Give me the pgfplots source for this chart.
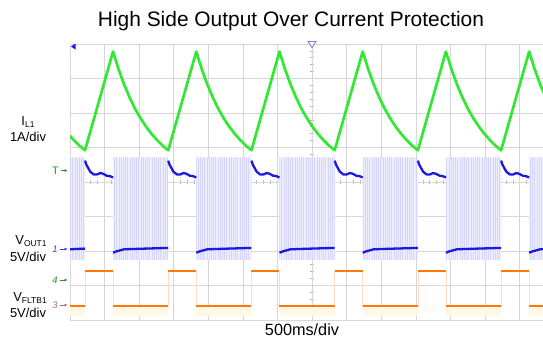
\documentclass[border=0pt]{standalone}
\usepackage{pgfplots}
\pgfplotsset{compat=1.18}
\usetikzlibrary{arrows.meta,patterns.meta}
\usepackage{fontspec}
\setmainfont{Liberation Sans}
\definecolor{scgreen}{RGB}{50,232,50}
\definecolor{scblue}{RGB}{25,25,225}
\definecolor{scorange}{RGB}{255,120,10}
\definecolor{shblue}{RGB}{238,238,255}
\definecolor{shbluel}{RGB}{214,214,252}
\definecolor{shorange}{RGB}{255,248,228}
\definecolor{gridgray}{RGB}{215,215,215}
\definecolor{tickgray}{RGB}{185,185,185}
\definecolor{mkgreen}{RGB}{40,150,40}
\definecolor{mkblue}{RGB}{60,60,220}
\definecolor{mkbrown}{RGB}{170,110,90}
\definecolor{trigblue}{RGB}{120,120,220}
\pgfplotsset{shade/.style={draw=none, fill=shblue, postaction={pattern={Lines[angle=90, distance=2.2bp, line width=0.45bp]}, pattern color=shbluel}}}
\begin{document}
\begin{tikzpicture}[x=1bp,y=1bp]
% graticule centre ticks
\foreach \i in {1,...,68} {\draw[tickgray, line width=0.7bp] ({\i*6.92},136) -- ({\i*6.92},140);}
\foreach \j in {1,...,39} {\draw[tickgray, line width=0.7bp] (240.2,{\j*6.9}) -- (244.2,{\j*6.9});}
\begin{axis}[at={(0,0)}, anchor=south west, scale only axis,
  width=473bp, height=276bp,
  xmin=0, xmax=13.67, ymin=0, ymax=8,
  xtick={0,...,13}, ytick={0,...,8},
  xticklabels={}, yticklabels={},
  major tick length=0pt,
  grid=major, grid style={draw=gridgray, line width=1bp},
  axis line style={draw=none},
  unbounded coords=jump, clip=true]
% blue switching shading
\addplot[shade] coordinates {(0,1.74)(0.434,1.74)(0.434,4.70)(0,4.70)} -- cycle;
\addplot[shade] coordinates {(1.244,1.74)(2.839,1.74)(2.839,4.70)(1.244,4.70)} -- cycle;
\addplot[shade] coordinates {(3.649,1.74)(5.244,1.74)(5.244,4.70)(3.649,4.70)} -- cycle;
\addplot[shade] coordinates {(6.054,1.74)(7.649,1.74)(7.649,4.70)(6.054,4.70)} -- cycle;
\addplot[shade] coordinates {(8.459,1.74)(10.054,1.74)(10.054,4.70)(8.459,4.70)} -- cycle;
\addplot[shade] coordinates {(10.864,1.74)(12.459,1.74)(12.459,4.70)(10.864,4.70)} -- cycle;
\addplot[shade] coordinates {(13.269,1.74)(13.67,1.74)(13.67,4.70)(13.269,4.70)} -- cycle;
% orange pale shading
\addplot[draw=none, fill=shorange] coordinates {(0,0.13)(0.434,0.13)(0.434,0.41)(0,0.41)} -- cycle;
\addplot[draw=none, fill=shorange] coordinates {(1.244,0.13)(2.839,0.13)(2.839,0.41)(1.244,0.41)} -- cycle;
\addplot[draw=none, fill=shorange] coordinates {(3.649,0.13)(5.244,0.13)(5.244,0.41)(3.649,0.41)} -- cycle;
\addplot[draw=none, fill=shorange] coordinates {(6.054,0.13)(7.649,0.13)(7.649,0.41)(6.054,0.41)} -- cycle;
\addplot[draw=none, fill=shorange] coordinates {(8.459,0.13)(10.054,0.13)(10.054,0.41)(8.459,0.41)} -- cycle;
\addplot[draw=none, fill=shorange] coordinates {(10.864,0.13)(12.459,0.13)(12.459,0.41)(10.864,0.41)} -- cycle;
\addplot[draw=none, fill=shorange] coordinates {(13.269,0.13)(13.67,0.13)(13.67,0.41)(13.269,0.41)} -- cycle;
% I_L1
\addplot[scgreen, line width=2.7bp, line join=round] coordinates {
(0,5.34)(0.115,5.21)(0.275,5.05)(0.434,4.92)
(1.244,7.78)(1.404,7.27)(1.563,6.83)(1.723,6.45)(1.882,6.12)(2.042,5.84)(2.201,5.60)(2.361,5.39)(2.520,5.21)(2.680,5.05)(2.839,4.92)
(3.649,7.78)(3.809,7.27)(3.968,6.83)(4.128,6.45)(4.287,6.12)(4.447,5.84)(4.606,5.60)(4.766,5.39)(4.925,5.21)(5.085,5.05)(5.244,4.92)
(6.054,7.78)(6.214,7.27)(6.373,6.83)(6.533,6.45)(6.692,6.12)(6.852,5.84)(7.011,5.60)(7.171,5.39)(7.330,5.21)(7.490,5.05)(7.649,4.92)
(8.459,7.78)(8.619,7.27)(8.778,6.83)(8.938,6.45)(9.097,6.12)(9.257,5.84)(9.416,5.60)(9.576,5.39)(9.735,5.21)(9.895,5.05)(10.054,4.92)
(10.864,7.78)(11.024,7.27)(11.183,6.83)(11.343,6.45)(11.502,6.12)(11.662,5.84)(11.821,5.60)(11.981,5.39)(12.140,5.21)(12.300,5.05)(12.459,4.92)
(13.269,7.78)(13.429,7.27)(13.588,6.83)(13.748,6.45)};
% V_OUT1
\addplot[scblue, line width=2.3bp, line join=round] coordinates {
(0,2.05)(0.434,2.07)(0.434,nan)
(0.434,4.62)(0.474,4.50)(0.584,4.30)(0.684,4.22)(0.784,4.22)(0.874,4.26)(0.954,4.24)(1.064,4.18)(1.154,4.17)(1.244,4.13)(1.244,nan)
(1.244,1.95)(1.344,1.99)(1.564,2.05)(2.2,2.07)(2.839,2.09)(2.839,nan)
(2.839,4.62)(2.879,4.50)(2.989,4.30)(3.089,4.22)(3.189,4.22)(3.279,4.26)(3.359,4.24)(3.469,4.18)(3.559,4.17)(3.649,4.13)(3.649,nan)
(3.649,1.95)(3.749,1.99)(3.969,2.05)(4.6,2.07)(5.244,2.09)(5.244,nan)
(5.244,4.62)(5.284,4.50)(5.394,4.30)(5.494,4.22)(5.594,4.22)(5.684,4.26)(5.764,4.24)(5.874,4.18)(5.964,4.17)(6.054,4.13)(6.054,nan)
(6.054,1.95)(6.154,1.99)(6.374,2.05)(7.0,2.07)(7.649,2.09)(7.649,nan)
(7.649,4.62)(7.689,4.50)(7.799,4.30)(7.899,4.22)(7.999,4.22)(8.089,4.26)(8.169,4.24)(8.279,4.18)(8.369,4.17)(8.459,4.13)(8.459,nan)
(8.459,1.95)(8.559,1.99)(8.779,2.05)(9.4,2.07)(10.054,2.09)(10.054,nan)
(10.054,4.62)(10.094,4.50)(10.204,4.30)(10.304,4.22)(10.404,4.22)(10.494,4.26)(10.574,4.24)(10.684,4.18)(10.774,4.17)(10.864,4.13)(10.864,nan)
(10.864,1.95)(10.964,1.99)(11.184,2.05)(11.8,2.07)(12.459,2.09)(12.459,nan)
(12.459,4.62)(12.499,4.50)(12.609,4.30)(12.709,4.22)(12.809,4.22)(12.899,4.26)(12.979,4.24)(13.089,4.18)(13.179,4.17)(13.269,4.13)(13.269,nan)
(13.269,1.95)(13.369,1.99)(13.589,2.05)(13.67,2.05)};
% V_FLTB1 faint edges
\addplot[const plot, scorange!25, line width=0.6bp] coordinates {(0,0.41)(0.434,1.42)(1.244,0.41)(2.839,1.42)(3.649,0.41)(5.244,1.42)(6.054,0.41)(7.649,1.42)(8.459,0.41)(10.054,1.42)(10.864,0.41)(12.459,1.42)(13.269,0.41)(13.67,0.41)};
% V_FLTB1
\addplot[scorange, line width=2.6bp] coordinates {
(0,0.41)(0.434,0.41)(0.434,nan)(0.434,1.42)(1.244,1.42)(1.244,nan)
(1.244,0.41)(2.839,0.41)(2.839,nan)(2.839,1.42)(3.649,1.42)(3.649,nan)
(3.649,0.41)(5.244,0.41)(5.244,nan)(5.244,1.42)(6.054,1.42)(6.054,nan)
(6.054,0.41)(7.649,0.41)(7.649,nan)(7.649,1.42)(8.459,1.42)(8.459,nan)
(8.459,0.41)(10.054,0.41)(10.054,nan)(10.054,1.42)(10.864,1.42)(10.864,nan)
(10.864,0.41)(12.459,0.41)(12.459,nan)(12.459,1.42)(13.269,1.42)(13.269,nan)
(13.269,0.41)(13.67,0.41)};
\end{axis}
% scope markers
\fill[scblue] (1,273.5) -- (5.5,276.5) -- (5.5,270.5) -- cycle;
\draw[trigblue, fill=white, line width=0.8bp] (238,278.5) -- (246,278.5) -- (242,272.5) -- cycle;
\node[anchor=base, text=mkgreen, font=\fontsize{11}{13}\selectfont, inner sep=0pt] at (-14.5,146) {T};
\draw[mkgreen, line width=0.8bp, -{Latex[length=3bp,width=3.2bp]}] (-9,149.5) -- (-2.5,149.5);
\node[anchor=base, text=mkblue, font=\fontsize{9.5}{11}\itshape\selectfont, inner sep=0pt] at (-15,68) {1};
\draw[mkblue, line width=0.8bp, -{Latex[length=3bp,width=3.2bp]}] (-10,71) -- (-2.5,71);
\node[anchor=base, text=mkgreen, font=\fontsize{9.5}{11}\itshape\selectfont, inner sep=0pt] at (-15,37) {4};
\draw[mkgreen, line width=0.8bp, -{Latex[length=3bp,width=3.2bp]}] (-10,40) -- (-2.5,40);
\node[anchor=base, text=mkbrown, font=\fontsize{9.5}{11}\itshape\selectfont, inner sep=0pt] at (-15,12) {3};
\draw[mkbrown, line width=0.8bp, -{Latex[length=3bp,width=3.2bp]}] (-10,15) -- (-2.5,15);
% texts
\node[anchor=base, font=\fontsize{21}{25}\selectfont, inner sep=0pt] at (221,294) {High Side Output Over Current Protection};
\node[anchor=base, font=\fontsize{16.3}{19}\selectfont, inner sep=0pt] at (232,-15) {500ms/div};
\node[anchor=base, font=\fontsize{13}{15}\selectfont, inner sep=0pt] at (-42,195) {I{\fontsize{8.5}{10}\selectfont\raisebox{-2.5bp}{L1}}};
\node[anchor=base, font=\fontsize{13}{15}\selectfont, inner sep=0pt] at (-42,179) {1A/div};
\node[anchor=base, font=\fontsize{13}{15}\selectfont, inner sep=0pt] at (-39,76) {V{\fontsize{8.5}{10}\selectfont\raisebox{-2.5bp}{OUT1}}};
\node[anchor=base, font=\fontsize{13}{15}\selectfont, inner sep=0pt] at (-42,59) {5V/div};
\node[anchor=base, font=\fontsize{13}{15}\selectfont, inner sep=0pt] at (-40,19) {V{\fontsize{8.5}{10}\selectfont\raisebox{-2.5bp}{FLTB1}}};
\node[anchor=base, font=\fontsize{13}{15}\selectfont, inner sep=0pt] at (-42,3) {5V/div};
\pgfresetboundingbox
\useasboundingbox (-70,-21) rectangle (473,320);
\end{tikzpicture}
\end{document}
